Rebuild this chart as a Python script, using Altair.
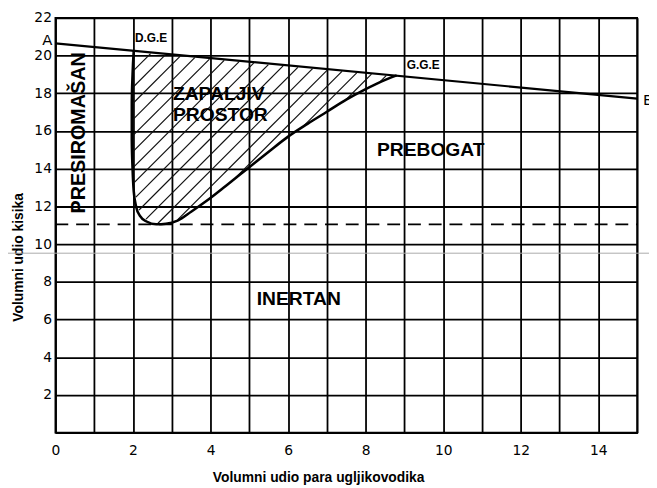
import altair as alt
import pandas as pd
import numpy as np

# ---------------- data ----------------
# air line A - B (volume % hydrocarbon, volume % oxygen)
air_x = [0.0, 15.0]
air_y = [20.65, 17.72]

# flammability envelope boundary from D.G.E. down around the nose to G.G.E.
bound_x = [2.02, 1.99, 1.97, 1.97, 1.99, 2.02, 2.08, 2.18, 2.35, 2.60, 2.85,
           3.15, 3.50, 3.90, 4.40, 4.95, 5.50, 6.00, 6.50, 7.00, 7.50, 8.00,
           8.40, 8.80]
bound_y = [20.25, 19.00, 17.50, 15.50, 14.00, 12.80, 12.00, 11.50, 11.20,
           11.05, 11.08, 11.25, 11.72, 12.30, 13.10, 14.00, 14.90, 15.70,
           16.38, 17.02, 17.66, 18.22, 18.62, 18.95]

# limiting oxygen (dashed)
dash_x = [0.0, 15.0]
dash_y = [11.05, 11.05]

# faint scan line in the picture
scan_x = [-1.6, 15.6]
scan_y = [9.52, 9.52]

# labels
big_text = ["ZAPALJIV", "PROSTOR", "PREBOGAT", "INERTAN"]
big_x = [3.03, 3.03, 8.29, 5.19]
big_y = [17.97, 16.86, 14.98, 7.07]

rot_text = ["PRESIROMAŠAN"]
rot_x = [0.60]
rot_y = [15.9]

small_text = ["D.G.E", "G.G.E"]
small_x = [2.05, 9.06]
small_y = [20.95, 19.50]

end_text = ["A", "B"]

x_ticks = list(range(0, 16))
y_ticks = list(range(0, 23, 2))

# ---------------- geometry ----------------
W, H = 589, 420
XMAX, YMAX = 15, 22


def to_px(x, y):
    return x * W / XMAX, H - y * H / YMAX


def to_data(px, py):
    return px * XMAX / W, (H - py) * YMAX / H


# hatch lines (45 deg in screen space) clipped to the envelope polygon
poly = [to_px(x, y) for x, y in zip(bound_x, bound_y)]
edges = list(zip(poly, poly[1:] + poly[:1]))
hatch = []
step = 16.3
gap = 1.5
c = 2.1
while c < W + H:
    pts = []
    for (x1, y1), (x2, y2) in edges:
        f1 = x1 + y1 - c
        f2 = x2 + y2 - c
        if (f1 < 0) != (f2 < 0):
            t = f1 / (f1 - f2)
            pts.append((x1 + t * (x2 - x1), y1 + t * (y2 - y1)))
    pts.sort()
    for a, b in zip(pts[0::2], pts[1::2]):
        L = np.hypot(b[0] - a[0], b[1] - a[1])
        if L < 2 * gap + 2:
            continue
        d = gap / np.sqrt(2)
        ax, ay = a[0] + d, a[1] - d
        bx, by = b[0] - d, b[1] + d
        x1d, y1d = to_data(ax, ay)
        x2d, y2d = to_data(bx, by)
        hatch.append({"x": x1d, "y": y1d, "x2": x2d, "y2": y2d})
    c += step
hatch_df = pd.DataFrame(hatch)

# ---------------- encodings ----------------
X_TITLE = "Volumni udio para ugljikovodika"
Y_TITLE = "Volumni udio kisika"

x_axis = alt.Axis(
    values=x_ticks, title=X_TITLE,
    labelExpr="(datum.value % 2 == 0 && datum.value < 15) ? datum.label : ''",
    labelFont="DejaVu Sans", labelFontSize=14, labelColor="#000",
    labelPadding=11, tickSize=0, labelFlush=False,
    titleFont="Liberation Sans", titleFontSize=14, titleFontWeight="bold",
    titleColor="#000", titleX=266, titleY=49, titleAnchor="middle",
    titleBaseline="alphabetic",
)
y_axis = alt.Axis(
    values=y_ticks, title=Y_TITLE,
    labelExpr="datum.value > 0 ? datum.label : ''",
    labelFont="DejaVu Sans", labelFontSize=14, labelColor="#000",
    labelPadding=4, tickSize=0,
    titleFont="Liberation Sans", titleFontSize=14, titleFontWeight="bold",
    titleColor="#000", titleX=-33, titleY=242, titleAngle=-90,
    titleAnchor="middle", titleBaseline="alphabetic",
)
xs = alt.Scale(domain=[0, XMAX], nice=False, zero=False)
ys = alt.Scale(domain=[0, YMAX], nice=False, zero=False)


def X(f="x"):
    return alt.X(f"{f}:Q", scale=xs, axis=x_axis)


def Y(f="y"):
    return alt.Y(f"{f}:Q", scale=ys, axis=y_axis)


# ---------------- layers ----------------
scan_df = pd.DataFrame({"x": [scan_x[0]], "x2": [scan_x[1]], "y": [scan_y[0]]})
scan = alt.Chart(scan_df).mark_rule(color="#aaaaaa", strokeWidth=1).encode(
    x=X(), x2="x2:Q", y=Y())

hatch_layer = alt.Chart(hatch_df).mark_rule(color="#111", strokeWidth=1.2).encode(
    x=X(), y=Y(), x2="x2:Q", y2="y2:Q")

dash_df = pd.DataFrame({"x": dash_x, "y": dash_y})
dash = alt.Chart(dash_df).mark_line(color="#000", strokeWidth=1.6,
                                    strokeDash=[13, 8]).encode(x=X(), y=Y())

air_df = pd.DataFrame({"x": air_x, "y": air_y})
air = alt.Chart(air_df).mark_line(color="#000", strokeWidth=2.2).encode(x=X(), y=Y())

bound_df = pd.DataFrame({"x": bound_x, "y": bound_y, "o": range(len(bound_x))})
bound = alt.Chart(bound_df).mark_line(color="#000", strokeWidth=2.6,
                                      interpolate="monotone").encode(
    x=X(), y=Y(), order="o:Q")

big_df = pd.DataFrame({"t": big_text, "x": big_x, "y": big_y})
big = alt.Chart(big_df).mark_text(font="Liberation Sans", fontSize=19.5,
                                  fontWeight="bold", align="left",
                                  baseline="middle", color="#000").encode(
    x=X(), y=Y(), text="t:N")

rot_df = pd.DataFrame({"t": rot_text, "x": rot_x, "y": rot_y})
rot = alt.Chart(rot_df).mark_text(font="Liberation Sans", fontSize=20,
                                  fontWeight="bold", angle=270, align="center",
                                  baseline="middle", color="#000").encode(
    x=X(), y=Y(), text="t:N")

small_df = pd.DataFrame({"t": small_text, "x": small_x, "y": small_y})
small = alt.Chart(small_df).mark_text(font="Liberation Sans", fontSize=12,
                                      fontWeight="bold", align="left",
                                      baseline="middle", color="#000").encode(
    x=X(), y=Y(), text="t:N")

a_df = pd.DataFrame({"t": [end_text[0]], "x": [air_x[0]], "y": [air_y[0]]})
a_lab = alt.Chart(a_df).mark_text(font="DejaVu Sans", fontSize=15, align="right",
                                  baseline="middle", dx=-3, dy=-3,
                                  color="#000").encode(x=X(), y=Y(), text="t:N")
b_df = pd.DataFrame({"t": [end_text[1]], "x": [air_x[1]], "y": [air_y[1]]})
b_lab = alt.Chart(b_df).mark_text(font="DejaVu Sans", fontSize=15, align="left",
                                  baseline="middle", dx=6, dy=2,
                                  color="#000").encode(x=X(), y=Y(), text="t:N")

chart = alt.layer(scan, hatch_layer, dash, air, bound, big, rot, small,
                  a_lab, b_lab).properties(
    width=W, height=H,
    autosize=alt.AutoSizeParams(type="none"),
    padding={"left": 48, "top": 7, "right": 12, "bottom": 53},
    background="white",
).configure_axis(
    grid=True, gridColor="#000", gridWidth=1.8, gridOpacity=1,
    domainColor="#000", domainWidth=1.8,
).configure_view(stroke="#000", strokeWidth=1.8)

chart.save("out.html", embed_options={"renderer": "svg", "actions": False})
